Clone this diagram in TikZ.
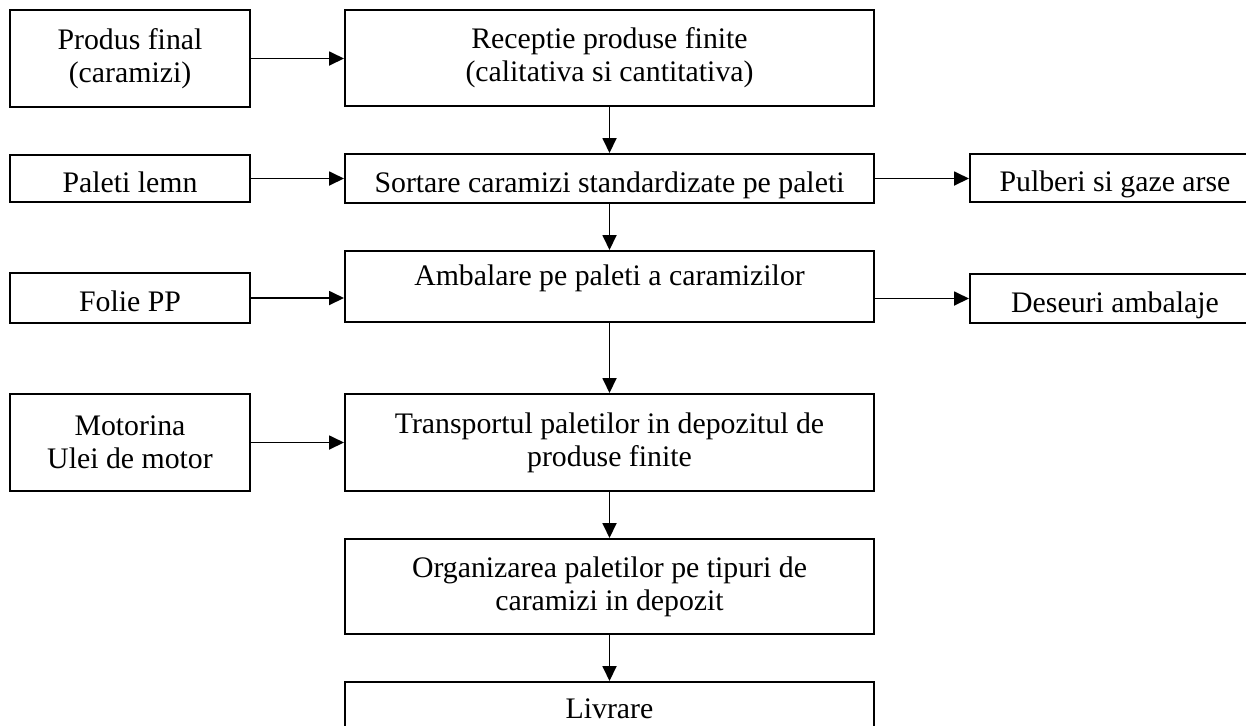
\documentclass[tikz,border=0pt]{standalone}
\usepackage{fontspec}
\setmainfont{Liberation Serif}
\usepackage{xcolor}
\usetikzlibrary{arrows.meta}
\tikzset{
    caseta/.style={draw, line width=1pt, inner sep=2pt, align=center, font=\fontsize{14.9}{16.5}\selectfont},
    stinga/.style={caseta, minimum width=120pt},
    mijloc/.style={caseta, minimum width=264.5pt},
    dreapta/.style={caseta, minimum width=145pt},
    jos/.style={text height=13.5pt, text depth=0pt},
    sageata/.style={line width=0.9pt, -{Triangle[length=7.5pt, width=7pt]}}
}

\begin{document}
\begin{tikzpicture}[x=0.5pt, y=-0.5pt]
                \useasboundingbox (0,0) rectangle (1246,725);

                \node[stinga, minimum height=48.5pt] (produs) at (130,58.5) {Produs final\\(caramizi)};
                \node[mijloc, minimum height=48pt] (receptie) at (609.5,58) {Receptie produse finite\\(calitativa si cantitativa)};

                \node[stinga, jos, minimum height=23.5pt] (paleti) at (130,178.5) {Paleti lemn};
                \node[mijloc, jos, minimum height=24.5pt] (sortare) at (609.5,178.5) {Sortare caramizi standardizate pe paleti};
                \node[dreapta, jos, minimum height=24pt] (pulberi) at (1115,178) {Pulberi si gaze arse};

                \node[stinga, jos, minimum height=25pt] (folie) at (130,298) {Folie PP};
                \node[mijloc, text height=0pt, text depth=1.5pt, minimum height=35.5pt] (ambalare) at (609.5,286.5) {Ambalare pe paleti a caramizilor};
                \node[dreapta, jos, minimum height=24.5pt] (deseuri) at (1115,298.5) {Deseuri ambalaje};

                \node[stinga, minimum height=48.5pt] (motorina) at (130,442.5) {Motorina\\Ulei de motor};
                \node[mijloc, minimum height=48.5pt] (transport) at (609.5,442.5) {Transportul paletilor in depozitul de\\produse finite};

                \node[mijloc, minimum height=47.5pt] (organizare) at (609.5,586.5) {Organizarea paletilor pe tipuri de\\caramizi in depozit};
                \node[mijloc, text height=8pt, text depth=0pt, minimum height=28pt] (livrare) at (609.5,710) {Livrare};

                \draw[sageata] (produs.east) -- (produs.east -| receptie.west);
                \draw[sageata] (paleti.east) -- (paleti.east -| sortare.west);
                \draw[sageata] (folie.east) -- (folie.east -| ambalare.west);
                \draw[sageata] (motorina.east) -- (motorina.east -| transport.west);

                \draw[sageata] (sortare.east) -- (sortare.east -| pulberi.west);
                \draw[sageata] (deseuri.west -| ambalare.east) -- (deseuri.west);

                \draw[sageata] (receptie.south) -- (sortare.north);
                \draw[sageata] (sortare.south) -- (ambalare.north);
                \draw[sageata] (ambalare.south) -- (transport.north);
                \draw[sageata] (transport.south) -- (organizare.north);
                \draw[sageata] (organizare.south) -- (livrare.north);
\end{tikzpicture}
\end{document}
